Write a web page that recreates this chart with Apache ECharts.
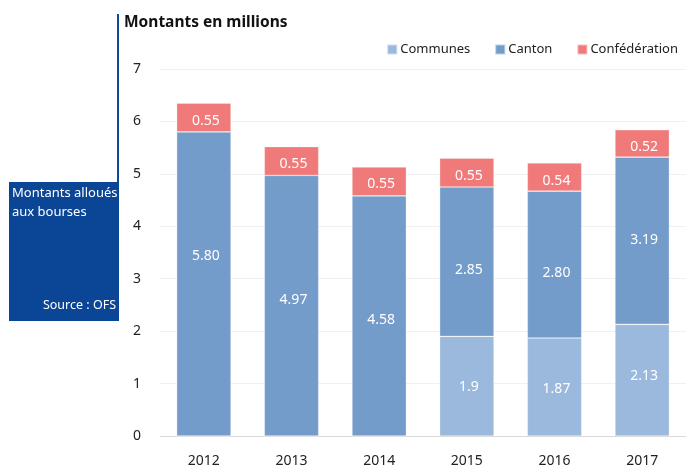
<!DOCTYPE html>
<html><head><meta charset="utf-8">
<script src="https://cdn.jsdelivr.net/npm/echarts@6/dist/echarts.min.js"></script>
<style>html,body{margin:0;padding:0;background:#fff}#c{width:686px;height:468px}</style>
</head><body><div id="c"></div>
<script>
const years = ['2012','2013','2014','2015','2016','2017'];
const communes = [0, 0, 0, 1.9, 1.87, 2.13];
const canton = [5.80, 4.97, 4.58, 2.85, 2.80, 3.19];
const confederation = [0.55, 0.55, 0.55, 0.55, 0.54, 0.52];
const yTicks = [0,1,2,3,4,5,6,7];

// label nudges (styling only)
const cantonDy = [-28, -6, 4, 8, 8, -1];
const communesDy = [1, 2, 2, 1, 2, -4];
const confDy = [4, 3, 3, 3, 4, 4];

const FONT = '"Noto Sans", "Open Sans", sans-serif';
const colors = {communes:'#9bb8dd', canton:'#739cca', conf:'#ef7a79'};

function mk(name, vals, color, dy, fmt) {
  return {
    name, type:'bar', stack:'t', barWidth:'62%',
    itemStyle:{color, borderColor:'rgba(255,255,255,0.5)', borderWidth:0.6},
    data: vals.map((v,i)=>({value:v, label:{show: v>0, offset:[2, dy[i]]}})),
    label:{show:true, position:'inside', color:'#fff', fontSize:14, fontFamily:FONT, formatter:p=>fmt(p.value)},
    emphasis:{disabled:true}
  };
}

const chart = echarts.init(document.getElementById('c'), null, {renderer:'canvas'});
chart.setOption({
  animation:false,
  grid:{left:160, right:-9, top:69, bottom:31, containLabel:false},
  legend:{
    data:['Communes','Canton','Confédération'], top:43, right:8, padding:0,
    itemWidth:10, itemHeight:10, itemGap:24, icon:'rect',
    textStyle:{fontSize:13, fontFamily:FONT, color:'#222', padding:[0,0,0,-2]}
  },
  xAxis:{
    type:'category', data:years,
    axisLine:{lineStyle:{color:'#d9d9d9'}}, axisTick:{show:false},
    axisLabel:{fontSize:14, fontFamily:FONT, color:'#222', margin:18}
  },
  yAxis:{
    type:'value', min:yTicks[0], max:yTicks[yTicks.length-1], interval:1,
    splitLine:{lineStyle:{color:'#f0f0f0'}},
    axisLine:{show:false}, axisTick:{show:false},
    axisLabel:{fontSize:14, fontFamily:FONT, color:'#222', margin:19}
  },
  series:[
    mk('Communes', communes, colors.communes, communesDy, v=>String(v)),
    mk('Canton', canton, colors.canton, cantonDy, v=>v.toFixed(2)),
    mk('Confédération', confederation, colors.conf, confDy, v=>v.toFixed(2))
  ],
  graphic:[
    {type:'rect', shape:{x:117, y:14, width:2, height:170}, style:{fill:'#0d4b9a'}},
    {type:'rect', shape:{x:9, y:182, width:110, height:139}, style:{fill:'#0b4596'}},
    {type:'text', left:124, top:15, style:{text:'Montants en millions', font:'bold 15.5px '+FONT, fill:'#111'}},
    {type:'text', left:12, top:184, style:{text:'Montants alloués\naux bourses', font:'13px '+FONT, fill:'#fff', lineHeight:19}},
    {type:'text', right:686-116, top:299, style:{text:'Source : OFS', font:'12.5px '+FONT, fill:'#fff'}}
  ]
});
</script></body></html>
